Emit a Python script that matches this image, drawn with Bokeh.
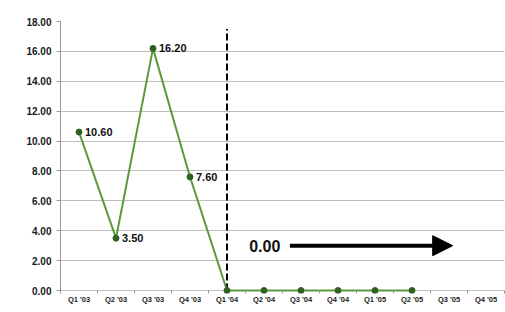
from bokeh.plotting import figure
from bokeh.models import Range1d, FixedTicker, Arrow, NormalHead, Label, NumeralTickFormatter
from bokeh.core.properties import value
from bokeh.embed import file_html
from bokeh.resources import INLINE

quarters = ["Q1 '03", "Q2 '03", "Q3 '03", "Q4 '03", "Q1 '04", "Q2 '04",
            "Q3 '04", "Q4 '04", "Q1 '05", "Q2 '05", "Q3 '05", "Q4 '05"]
values = [10.60, 3.50, 16.20, 7.60, 0.00, 0.00, 0.00, 0.00, 0.00, 0.00]
labelled_count = 4
y_ticks = [0, 2, 4, 6, 8, 10, 12, 14, 16, 18]
divider_quarter = 4
divider_top = 17.5
arrow_start = 5.7
arrow_end = 10.1
arrow_level = 3.0
annotation_text = "0.00"
annotation_x = 4.6

FONT = "Liberation Sans"

idx = list(range(len(values)))

p = figure(width=505, height=306,
           x_range=Range1d(-0.5, len(quarters) - 0.5),
           y_range=Range1d(-0.2, 18),
           output_backend="svg", toolbar_location=None,
           min_border_left=60, min_border_right=1,
           min_border_top=21, min_border_bottom=11)
p.outline_line_color = None
p.background_fill_color = "white"
p.border_fill_color = "white"

# x axis (the zero grid line serves as the axis line)
xa = p.xaxis[0]
xa.ticker = FixedTicker(ticks=list(range(len(quarters))),
                        minor_ticks=[i - 0.5 for i in range(len(quarters) + 1)])
xa.major_label_overrides = {i: q for i, q in enumerate(quarters)}
xa.major_tick_out = 0
xa.major_tick_in = 0
xa.minor_tick_out = 0
xa.minor_tick_in = 3
xa.minor_tick_line_color = "#999999"
xa.axis_line_color = None
xa.major_label_standoff = 1
xa.major_label_text_font = FONT
xa.major_label_text_font_style = "bold"
xa.major_label_text_font_size = "7.5px"
xa.major_label_text_color = "#222222"

# y axis
ya = p.yaxis[0]
ya.ticker = FixedTicker(ticks=y_ticks, minor_ticks=[])
ya.formatter = NumeralTickFormatter(format="0.00")
ya.major_tick_out = 4
ya.major_tick_in = 0
ya.major_tick_line_color = "#999999"
ya.minor_tick_line_color = None
ya.axis_line_color = "#999999"
ya.major_label_standoff = 5
ya.major_label_text_font = FONT
ya.major_label_text_font_style = "bold"
ya.major_label_text_font_size = "10px"
ya.major_label_text_color = "#1a1a1a"

p.xgrid.visible = False
p.ygrid.grid_line_color = "#bdbdbd"
p.ygrid.grid_line_width = 1

# divider
p.segment(x0=[divider_quarter], y0=[0], x1=[divider_quarter], y1=[divider_top],
          line_color="black", line_width=2, line_dash="7 3")

# series
p.line(idx, values, line_color="#5b9a3c", line_width=2)
p.scatter(idx, values, size=6, fill_color="#2f6121", line_color="#2f6121")

p.text(x=idx[:labelled_count], y=values[:labelled_count],
       text=[f"{v:.2f}" for v in values[:labelled_count]],
       x_offset=6, text_baseline="middle", text_align="left",
       text_font=value(FONT), text_font_style="bold", text_font_size="11px",
       text_color="#111111")

# annotation
p.add_layout(Arrow(end=NormalHead(size=20, fill_color="black", line_color="black"),
                   x_start=arrow_start, y_start=arrow_level,
                   x_end=arrow_end, y_end=arrow_level,
                   line_width=4, line_color="black"))
p.add_layout(Label(x=annotation_x, y=arrow_level, text=annotation_text,
                   text_baseline="middle", text_align="left",
                   text_font=FONT, text_font_style="bold", text_font_size="16px",
                   text_color="#111111"))

open("out.html", "w").write(file_html(p, INLINE))
